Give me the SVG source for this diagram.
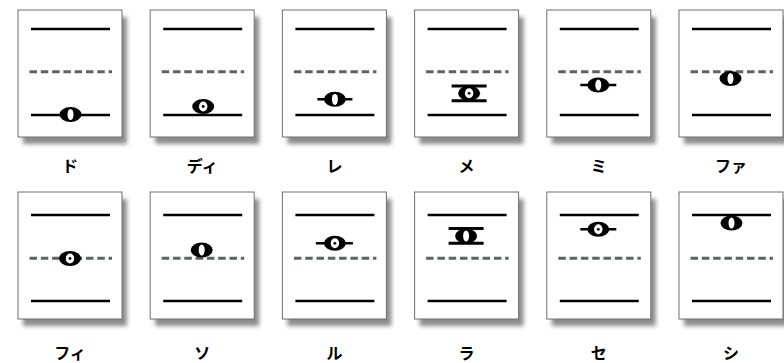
<svg xmlns="http://www.w3.org/2000/svg" xmlns:xlink="http://www.w3.org/1999/xlink" width="784" height="363" viewBox="0 0 784 363">
<style>
.card{fill:#fff;stroke:#6e6e6e;stroke-width:1}
.shadow{fill:#8c8c8c;filter:url(#blur)}
.solid{stroke:#000;stroke-width:2.6;fill:none}
.dash{stroke:#5c6463;stroke-width:3;stroke-dasharray:7.5 3.8;fill:none}
.ledger{stroke:#000;stroke-width:2.6}
.bar{stroke:#000;stroke-width:3}
.lbl{font-family:"Noto Sans CJK JP","Noto Sans",sans-serif;font-size:16px;font-weight:bold;text-anchor:middle;fill:#000}
</style>
<defs>
<filter id="blur" x="-20%" y="-20%" width="140%" height="140%"><feGaussianBlur stdDeviation="2"/></filter>
<g id="note"><ellipse rx="11" ry="7.5" fill="#000"/><ellipse rx="3" ry="5.6" fill="#fff"/></g>
<g id="dnote"><ellipse rx="11" ry="7.5" fill="#000"/><ellipse rx="4.2" ry="5" fill="#fff"/><circle r="1.4" fill="#000"/></g>
<g id="card"><rect class="shadow" x="5" y="7" width="104" height="127"/><rect class="card" x="0" y="0" width="104" height="127"/></g>
</defs>

<g id="p-do" transform="translate(18,10)">
<use xlink:href="#card"/>
<line class="solid" x1="13" y1="19" x2="92" y2="19"/><line class="dash" x1="11.5" y1="61.7" x2="94" y2="61.7"/><line class="solid" x1="13" y1="105" x2="92" y2="105"/>
<use xlink:href="#note" x="52.5" y="104.5"/>
<text class="lbl" x="52" y="162">ド</text>
</g>

<g id="p-di" transform="translate(150.2,10)">
<use xlink:href="#card"/>
<line class="solid" x1="13" y1="19" x2="92" y2="19"/><line class="dash" x1="11.5" y1="61.7" x2="94" y2="61.7"/><line class="solid" x1="13" y1="105" x2="92" y2="105"/>
<use xlink:href="#dnote" x="53" y="96.5"/>
<text class="lbl" x="52" y="162">ディ</text>
</g>

<g id="p-re" transform="translate(282.4,10)">
<use xlink:href="#card"/>
<line class="solid" x1="13" y1="19" x2="92" y2="19"/><line class="dash" x1="11.5" y1="61.7" x2="94" y2="61.7"/><line class="solid" x1="13" y1="105" x2="92" y2="105"/>
<line class="ledger" x1="35" y1="89.3" x2="70" y2="89.3"/>
<use xlink:href="#note" x="52.5" y="89.3"/>
<text class="lbl" x="52" y="162">レ</text>
</g>

<g id="p-me" transform="translate(414.6,10)">
<use xlink:href="#card"/>
<line class="solid" x1="13" y1="19" x2="92" y2="19"/><line class="dash" x1="11.5" y1="61.7" x2="94" y2="61.7"/><line class="solid" x1="13" y1="105" x2="92" y2="105"/>
<line class="bar" x1="37" y1="76" x2="72" y2="76"/><line class="bar" x1="37" y1="90.7" x2="72" y2="90.7"/>
<use xlink:href="#dnote" x="54.5" y="83.3"/>
<text class="lbl" x="52" y="162">メ</text>
</g>

<g id="p-mi" transform="translate(546.8,10)">
<use xlink:href="#card"/>
<line class="solid" x1="13" y1="19" x2="92" y2="19"/><line class="dash" x1="11.5" y1="61.7" x2="94" y2="61.7"/><line class="solid" x1="13" y1="105" x2="92" y2="105"/>
<line class="ledger" x1="33.5" y1="75" x2="69.5" y2="75"/>
<use xlink:href="#note" x="51.5" y="75"/>
<text class="lbl" x="52" y="162">ミ</text>
</g>

<g id="p-fa" transform="translate(679,10)">
<use xlink:href="#card"/>
<line class="solid" x1="13" y1="19" x2="92" y2="19"/><line class="dash" x1="11.5" y1="61.7" x2="94" y2="61.7"/><line class="solid" x1="13" y1="105" x2="92" y2="105"/>
<use xlink:href="#note" x="51.5" y="68.5"/>
<text class="lbl" x="52" y="162">ファ</text>
</g>

<g id="p-fi" transform="translate(18,192)">
<use xlink:href="#card"/>
<line class="solid" x1="13" y1="23" x2="92" y2="23"/><line class="dash" x1="11.5" y1="66.3" x2="94" y2="66.3"/><line class="solid" x1="13" y1="109" x2="92" y2="109"/>
<use xlink:href="#dnote" x="52" y="66.5"/>
<text class="lbl" x="52" y="167">フィ</text>
</g>

<g id="p-so" transform="translate(150.2,192)">
<use xlink:href="#card"/>
<line class="solid" x1="13" y1="23" x2="92" y2="23"/><line class="dash" x1="11.5" y1="66.3" x2="94" y2="66.3"/><line class="solid" x1="13" y1="109" x2="92" y2="109"/>
<use xlink:href="#note" x="51.5" y="58"/>
<text class="lbl" x="52" y="167">ソ</text>
</g>

<g id="p-ru" transform="translate(282.4,192)">
<use xlink:href="#card"/>
<line class="solid" x1="13" y1="23" x2="92" y2="23"/><line class="dash" x1="11.5" y1="66.3" x2="94" y2="66.3"/><line class="solid" x1="13" y1="109" x2="92" y2="109"/>
<line class="ledger" x1="33.5" y1="51.3" x2="70.5" y2="51.3"/>
<use xlink:href="#dnote" x="52.5" y="51.3"/>
<text class="lbl" x="52" y="167">ル</text>
</g>

<g id="p-ra" transform="translate(414.6,192)">
<use xlink:href="#card"/>
<line class="solid" x1="13" y1="23" x2="92" y2="23"/><line class="dash" x1="11.5" y1="66.3" x2="94" y2="66.3"/><line class="solid" x1="13" y1="109" x2="92" y2="109"/>
<line class="bar" x1="34" y1="36.5" x2="69" y2="36.5"/><line class="bar" x1="34" y1="51.3" x2="69" y2="51.3"/>
<use xlink:href="#note" x="51.5" y="44"/>
<text class="lbl" x="52" y="167">ラ</text>
</g>

<g id="p-se" transform="translate(546.8,192)">
<use xlink:href="#card"/>
<line class="solid" x1="13" y1="23" x2="92" y2="23"/><line class="dash" x1="11.5" y1="66.3" x2="94" y2="66.3"/><line class="solid" x1="13" y1="109" x2="92" y2="109"/>
<line class="ledger" x1="33.5" y1="37.3" x2="69.5" y2="37.3"/>
<use xlink:href="#dnote" x="51.5" y="37.3"/>
<text class="lbl" x="52" y="167">セ</text>
</g>

<g id="p-shi" transform="translate(679,192)">
<use xlink:href="#card"/>
<line class="solid" x1="13" y1="23" x2="92" y2="23"/><line class="dash" x1="11.5" y1="66.3" x2="94" y2="66.3"/><line class="solid" x1="13" y1="109" x2="92" y2="109"/>
<use xlink:href="#note" x="52.5" y="31"/>
<text class="lbl" x="52" y="167">シ</text>
</g>
<g id="connectors"/>
</svg>
